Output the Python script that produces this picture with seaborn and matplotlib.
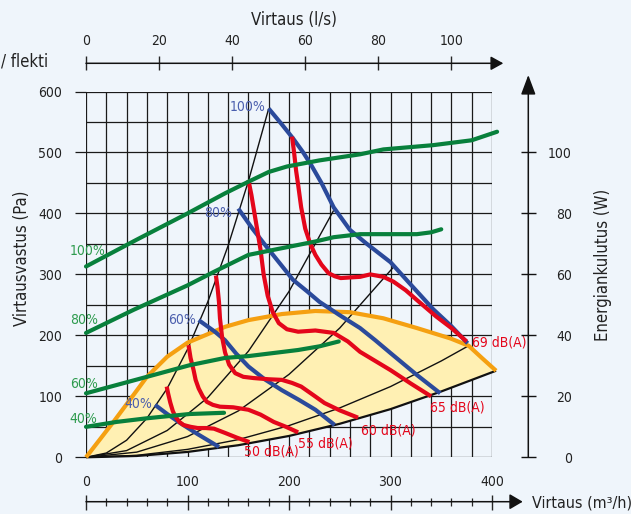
import numpy as np
import pandas as pd
import matplotlib
matplotlib.use("Agg")
import matplotlib.pyplot as plt
import seaborn as sns

# ---------------- data ----------------
# x: airflow (m3/h), y: pressure (Pa)
sys_A_x = [0, 20, 40, 60, 80, 100, 120, 140, 160, 180]
sys_A_y = [0, 7, 28, 64, 113, 177, 255, 347, 453, 572]
sys_B_x = [0, 40, 80, 120, 160, 200, 244]
sys_B_y = [0, 11, 44, 98, 174, 272, 405]
sys_C_x = [0, 50, 100, 150, 200, 250, 304]
sys_C_y = [0, 8.5, 34, 76, 136, 212, 314]
sys_D_x = [0, 50, 100, 150, 200, 250, 300, 350, 377]
sys_D_y = [0, 3.2, 13, 29, 52, 81, 116, 158, 183]
sys_E_x = [0, 50, 100, 150, 200, 250, 300, 350, 404]
sys_E_y = [0, 2.2, 8.8, 19.8, 35, 55, 79, 108, 142]

fan100_x = [180, 192, 204, 214, 222, 232, 244, 260, 276, 300, 319, 342, 360, 376]
fan100_y = [572, 548, 523, 500, 479, 450, 410, 373, 351, 320, 285, 243, 215, 187]
fan80_x = [150, 164, 178, 191, 204, 218, 230, 250, 270, 285, 300, 326, 349]
fan80_y = [408, 375, 345, 318, 291, 272, 255, 233, 212, 192, 171, 135, 105]
fan60_x = [111, 127, 137, 148, 160, 176, 193, 210, 226, 245]
fan60_y = [225, 206, 192, 170, 149, 128, 110, 94, 78, 53]
fan40_x = [68, 80, 93, 110, 131]
fan40_y = [86, 71, 56, 38, 17]

db50_x = [79.5, 81, 83, 85.5, 88, 92, 96, 103, 110, 118, 126, 137, 149, 161]
db50_y = [116, 104, 90, 76, 67, 58, 53, 50, 48, 48, 47, 40, 32, 25]
db55_x = [101, 103, 106, 108, 111, 115, 119, 125, 132, 145, 160, 172, 185, 197, 209]
db55_y = [184, 163, 143, 127, 113, 100, 91, 86, 83, 82, 78, 70, 58, 50, 41]
db60_x = [128, 129.5, 131, 132, 134, 137, 141, 147, 155, 165, 180, 193, 203, 212, 224, 235, 250, 268]
db60_y = [298, 280, 255, 228, 198, 172, 152, 138, 132, 130, 128, 127, 122, 116, 102, 89, 77, 65]
db65_x = [160, 163, 166, 169, 172, 175, 179, 184, 190, 198, 209, 226, 244, 258, 270, 285, 300, 320, 340]
db65_y = [455, 430, 400, 370, 340, 300, 265, 238, 220, 210, 206, 208, 204, 190, 173, 158, 143, 121, 100]
db69_x = [203, 205, 207, 209, 212, 216, 221, 226, 232, 239, 245, 251, 260, 270, 280, 293, 303, 315, 326, 345, 360, 375]
db69_y = [526, 500, 470, 447, 410, 375, 350, 332, 316, 302, 297, 294, 295, 296, 300, 296, 288, 274, 258, 231, 212, 190]

env_x = [0, 14, 27, 44, 60, 80, 100, 120, 137, 160, 193, 226, 260, 293, 326, 359, 377, 390, 404]
env_y = [0, 30, 58, 96, 132, 165, 188, 202, 214, 225, 235, 240, 238, 228, 212, 195, 183, 163, 142]

# power consumption (W)
pw100_x = [0, 50, 100, 137, 160, 180, 198, 230, 270, 293, 342, 380, 405]
pw100_y = [62.6, 71.4, 80, 86.6, 90.4, 93.6, 95.4, 97.4, 99.4, 101, 102.4, 104, 106.8]
pw80_x = [0, 47, 100, 127, 160, 193, 226, 244, 270, 300, 326, 340, 350]
pw80_y = [40.8, 48.4, 56.4, 61, 66.4, 68.6, 70.8, 72.2, 73.2, 73.2, 73.2, 73.8, 74.8]
pw60_x = [0, 60, 102, 137, 160, 209, 230, 249]
pw60_y = [21, 26.4, 30.2, 32.6, 33.2, 35.2, 36.4, 38]
pw40_x = [0, 30, 60, 102, 136]
pw40_y = [10, 11.6, 12.8, 14.2, 14.6]

flow_ticks = [0, 100, 200, 300, 400]
ls_ticks = [0, 20, 40, 60, 80, 100]
pa_ticks = [0, 100, 200, 300, 400, 500, 600]
w_ticks = [0, 20, 40, 60, 80, 100]

fan_labels = ["100%", "80%", "60%", "40%"]
db_labels = ["50 dB(A)", "55 dB(A)", "60 dB(A)", "65 dB(A)", "69 dB(A)"]


def long_df(pairs, names):
    frames = []
    for (xs, ys), n in zip(pairs, names):
        frames.append(pd.DataFrame({"x": xs, "y": ys, "curve": n}))
    return pd.concat(frames, ignore_index=True)


sys_df = long_df([(sys_A_x, sys_A_y), (sys_B_x, sys_B_y), (sys_C_x, sys_C_y), (sys_D_x, sys_D_y)],
                 ["A", "B", "C", "D"])
fan_df = long_df([(fan100_x, fan100_y), (fan80_x, fan80_y), (fan60_x, fan60_y), (fan40_x, fan40_y)], fan_labels)
db_df = long_df([(db50_x, db50_y), (db55_x, db55_y), (db60_x, db60_y), (db65_x, db65_y), (db69_x, db69_y)],
                db_labels)
pw_df = long_df([(pw100_x, pw100_y), (pw80_x, pw80_y), (pw60_x, pw60_y), (pw40_x, pw40_y)], fan_labels)

# ---------------- styling ----------------
sns.set_style("white")
plt.rcParams["font.family"] = ["DejaVu Sans"]
plt.rcParams["font.stretch"] = "condensed"

BG = "#eff5fb"
GREEN = "#08803c"
GREEN_T = "#2e9b4e"
BLUE = "#2b4a9b"
BLUE_T = "#4b5fae"
RED = "#e4061b"
ORANGE = "#f5a011"
YELLOW = "#fff0b3"
TXT = "#222222"

W, H = 631, 514
px0, px1 = 86, 492          # x pixels of 0 and 400 m3/h
py0, py1 = 457.3, 91.5      # y pixels (from top) of 0 and 600 Pa

fig = plt.figure(figsize=(6.31, 5.14), dpi=100, facecolor=BG)
ax = fig.add_axes([px0 / W, 1 - py0 / H, (px1 - px0) / W, (py0 - py1) / H])
ax.set_facecolor(BG)

# envelope fill
ax.fill(env_x + sys_E_x[::-1], env_y + sys_E_y[::-1], color=YELLOW, lw=0, zorder=1, clip_on=False)

# system curves
sns.lineplot(data=sys_df, x="x", y="y", units="curve", estimator=None, sort=False,
             color="#111111", lw=1.0, ax=ax, zorder=3)
sns.lineplot(x=sys_E_x, y=sys_E_y, sort=False, color="#111111", lw=1.6, ax=ax, zorder=3)
# envelope
sns.lineplot(x=env_x, y=env_y, sort=False, color=ORANGE, lw=3, ax=ax, zorder=3.5)
# fan curves
sns.lineplot(data=fan_df, x="x", y="y", units="curve", estimator=None, sort=False,
             color=BLUE, lw=3, ax=ax, zorder=4)
# noise curves
sns.lineplot(data=db_df, x="x", y="y", units="curve", estimator=None, sort=False,
             color=RED, lw=3, ax=ax, zorder=5)
for ln in ax.get_lines():
    ln.set_clip_on(False)
    ln.set_solid_capstyle("butt")

ax.set_xlim(0, 400)
ax.set_ylim(0, 600)
for s in ax.spines.values():
    s.set_visible(False)
ax.set_xticks(flow_ticks)
ax.set_xticks(np.arange(0, 401, 20), minor=True)
ax.set_yticks(pa_ticks)
ax.set_yticks(np.arange(0, 601, 50), minor=True)
ax.grid(True, which="both", color="#1a1a1a", lw=0.9, zorder=2)
ax.tick_params(axis="x", which="major", direction="out", length=8, width=0.9, labelbottom=False, colors="#1a1a1a")
ax.tick_params(axis="x", which="minor", length=0)
ax.tick_params(axis="y", which="major", direction="out", length=8, width=0.9, pad=9,
               labelsize=10, labelcolor=TXT, color="#1a1a1a")
ax.tick_params(axis="y", which="minor", length=0)
ax.set_xlabel("")
ax.set_ylabel("")

# fan labels (blue)
for txt, (tx, ty) in zip(fan_labels, [(177, 574), (144, 401), (108, 225), (65, 87)]):
    ax.text(tx, ty, txt, color=BLUE_T, fontsize=10, ha="right", va="center", zorder=6)
# noise labels
for txt, (tx, ty) in zip(db_labels, [(156, 9), (209, 23), (271, 44), (339, 81), (380, 189)]):
    ax.text(tx, ty, txt, color=RED, fontsize=10, ha="left", va="center", zorder=6, clip_on=False)

# power axis (W)
axw = ax.twinx()
axw.set_ylim(0, 120)
sns.lineplot(data=pw_df, x="x", y="y", units="curve", estimator=None, sort=False,
             color=GREEN, lw=3, ax=axw, zorder=4)
for ln in axw.get_lines():
    ln.set_clip_on(False)
axw.set_xlim(0, 400)
for s in axw.spines.values():
    s.set_visible(False)
axw.spines["right"].set_position(("outward", 26.1))
axw.set_yticks(w_ticks)
axw.tick_params(axis="y", direction="inout", length=10.8, width=1.0, pad=26.1, labelsize=10,
                labelcolor=TXT, color="#111111")
plt.setp(axw.get_yticklabels(), ha="right")
axw.set_xlabel("")
axw.set_ylabel("")
for txt, ty in zip(fan_labels, [67.7, 45, 24, 12.6]):
    axw.text(-16, ty, txt, color=GREEN_T, fontsize=10, ha="left", va="center", clip_on=False)

# top axis (l/s)
axt = fig.add_axes([px0 / W, 1 - 63.3 / H, (px1 - px0) / W, 1e-6])
axt.patch.set_visible(False)
axt.set_xlim(0, 400 / 3.6)
for s in axt.spines.values():
    s.set_visible(False)
axt.set_yticks([])
axt.set_xticks(ls_ticks)
axt.tick_params(axis="x", top=True, bottom=False, labeltop=True, labelbottom=False,
                direction="inout", length=10, width=1.0, pad=6, labelsize=10, labelcolor=TXT)

# bottom axis (m3/h)
axb = fig.add_axes([px0 / W, 1 - 501.7 / H, (px1 - px0) / W, 1e-6])
axb.patch.set_visible(False)
axb.set_xlim(0, 400)
for s in axb.spines.values():
    s.set_visible(False)
axb.set_yticks([])
axb.set_xticks(flow_ticks)
axb.set_xticks(np.arange(0, 401, 20), minor=True)
axb.tick_params(axis="x", which="major", top=True, bottom=False, labeltop=True, labelbottom=False,
                direction="inout", length=10.8, width=1.0, pad=4, labelsize=10, labelcolor=TXT)
axb.tick_params(axis="x", which="minor", top=True, bottom=False, direction="inout", length=5.5, width=0.9)


def arrow(p0, p1, hl, hw):
    fig.add_artist(matplotlib.patches.FancyArrowPatch(
        p0, p1, transform=None, arrowstyle=f"-|>,head_length={hl},head_width={hw}",
        mutation_scale=10, color="#111111", lw=1.1, shrinkA=0, shrinkB=0))


arrow((86, H - 501.7), (522.7, H - 501.7), 0.8, 0.47)
arrow((86, H - 63.3), (503.3, H - 63.3), 0.76, 0.42)
arrow((528.3, H - 457.3), (528.3, H - 75), 1.2, 0.45)

# titles
fig.text(294 / W, 1 - 20 / H, "Virtaus (l/s)", ha="center", va="center", fontsize=12, color=TXT)
fig.text(532 / W, 1 - 503.5 / H, "Virtaus (m³/h)", ha="left", va="center", fontsize=11.5, color=TXT)
fig.text(22 / W, 1 - 258 / H, "Virtausvastus (Pa)", ha="center", va="center", rotation=90,
         fontsize=12, color=TXT)
fig.text(603 / W, 1 - 265 / H, "Energiankulutus (W)", ha="center", va="center", rotation=90,
         fontsize=12, color=TXT)
fig.text(1 / W, 1 - 61.7 / H, "/ flekti", ha="left", va="center", fontsize=12, color=TXT)

fig.savefig("out.png", dpi=100, facecolor=BG)
